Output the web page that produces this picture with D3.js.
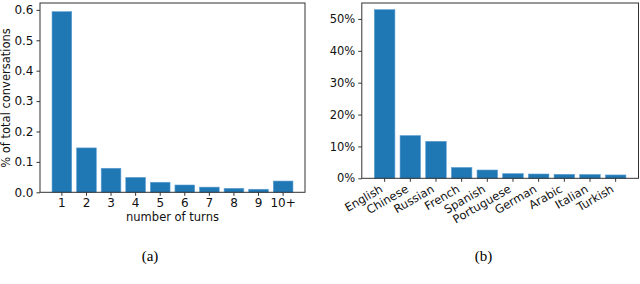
<!DOCTYPE html>
<html>
<head>
<meta charset="utf-8">
<script src="https://cdnjs.cloudflare.com/ajax/libs/d3/7.8.5/d3.min.js"></script>
<style>
  body { margin: 0; background: #fff; }
  svg { display: block; font-family: "DejaVu Sans", sans-serif; }
  .caption { font-family: "Liberation Serif", "Times New Roman", serif; }
</style>
</head>
<body>
<script>
// (a) number of turns per conversation
var turns = ["1", "2", "3", "4", "5", "6", "7", "8", "9", "10+"];
var turnShares = [0.594, 0.146, 0.079, 0.049, 0.033, 0.024, 0.017, 0.013, 0.010, 0.037];
var turnTicks = [0, 0.1, 0.2, 0.3, 0.4, 0.5, 0.6];

// (b) top 10 languages, percent
var languages = ["English", "Chinese", "Russian", "French", "Spanish", "Portuguese", "German", "Arabic", "Italian", "Turkish"];
var languageShares = [52.9, 13.4, 11.6, 3.4, 2.6, 1.45, 1.35, 1.25, 1.2, 1.05];
var languageTicks = [0, 10, 20, 30, 40, 50];

var width = 640;
var height = 284;
var barColor = "#1f77b4";
var fontSize = "11.5px";

var svg = d3.select("body")
    .append("svg")
    .attr("width", width)
    .attr("height", height);

function drawPanel(cfg) {
    var x = d3.scaleBand()
        .domain(cfg.categories)
        .range([cfg.left, cfg.right])
        .paddingInner(0.2)
        .paddingOuter(0.49);

    var y = d3.scaleLinear()
        .domain([0, cfg.yMax])
        .range([cfg.bottom, cfg.top]);

    var g = svg.append("g");

    g.selectAll("rect.bar")
        .data(cfg.values)
        .join("rect")
        .attr("class", "bar")
        .attr("x", (d, i) => x(cfg.categories[i]))
        .attr("y", d => y(d))
        .attr("width", x.bandwidth())
        .attr("height", d => y(0) - y(d))
        .attr("fill", barColor)
        .attr("stroke", "#5d9fd3")
        .attr("stroke-width", 0.6);

    // frame
    g.append("rect")
        .attr("x", cfg.left)
        .attr("y", cfg.top)
        .attr("width", cfg.right - cfg.left)
        .attr("height", cfg.bottom - cfg.top)
        .attr("fill", "none")
        .attr("stroke", "#333")
        .attr("stroke-width", 1);

    var ejeY = d3.axisLeft(y)
        .tickValues(cfg.yTicks)
        .tickFormat(cfg.yFormat)
        .tickSize(3.5)
        .tickPadding(3);

    var gy = g.append("g")
        .attr("transform", "translate(" + cfg.left + ",0)")
        .call(ejeY);
    gy.select(".domain").remove();
    gy.selectAll("line").attr("stroke", "#333");
    gy.selectAll("text")
        .attr("fill", "#111")
        .style("font-size", cfg.tickSize)
        .style("font-family", "DejaVu Sans");

    var ejeX = d3.axisBottom(x)
        .tickSize(3.5)
        .tickPadding(3);

    var gx = g.append("g")
        .attr("transform", "translate(0," + cfg.bottom + ")")
        .call(ejeX);
    gx.select(".domain").remove();
    gx.selectAll("line").attr("stroke", "#333");
    gx.selectAll("text")
        .attr("fill", "#111")
        .style("font-size", cfg.tickSize)
        .style("font-family", "DejaVu Sans");

    if (cfg.rotate) {
        gx.selectAll("text")
            .attr("text-anchor", "end")
            .attr("dy", null)
            .attr("y", 0)
            .attr("transform", "translate(-1,13) rotate(-30)");
    }

    return g;
}

var left = drawPanel({
    categories: turns,
    values: turnShares,
    yMax: 0.6226,
    yTicks: turnTicks,
    yFormat: d3.format(".1f"),
    tickSize: "12px",
    left: 40,
    right: 305,
    top: 3,
    bottom: 192.3,
    rotate: false
});

left.append("text")
    .attr("transform", "translate(10,98) rotate(-90)")
    .attr("text-anchor", "middle")
    .attr("fill", "#111")
    .style("font-size", fontSize)
    .text("% of total conversations");

left.append("text")
    .attr("x", 172.5)
    .attr("y", 221)
    .attr("text-anchor", "middle")
    .attr("fill", "#111")
    .style("font-size", fontSize)
    .text("number of turns");

drawPanel({
    categories: languages,
    values: languageShares,
    yMax: 55.0,
    yTicks: languageTicks,
    yFormat: d => d + "%",
    tickSize: fontSize,
    left: 361.8,
    right: 638.5,
    top: 3,
    bottom: 178.3,
    rotate: true
});

svg.append("text")
    .attr("class", "caption")
    .attr("x", 150)
    .attr("y", 261)
    .attr("text-anchor", "middle")
    .style("font-size", "15px")
    .text("(a)");

svg.append("text")
    .attr("class", "caption")
    .attr("x", 483.5)
    .attr("y", 261)
    .attr("text-anchor", "middle")
    .style("font-size", "15px")
    .text("(b)");

// figure caption, cut off by the bottom edge like the source
svg.append("text")
    .attr("class", "caption")
    .attr("x", 48)
    .attr("y", 294)
    .attr("fill", "#777")
    .attr("textLength", 472)
    .attr("lengthAdjust", "spacing")
    .style("font-size", "13px")
    .text("Figure 3: (a) Distribution of conversation turns. (b) Distribution of top 10 languages.");
</script>
</body>
</html>
